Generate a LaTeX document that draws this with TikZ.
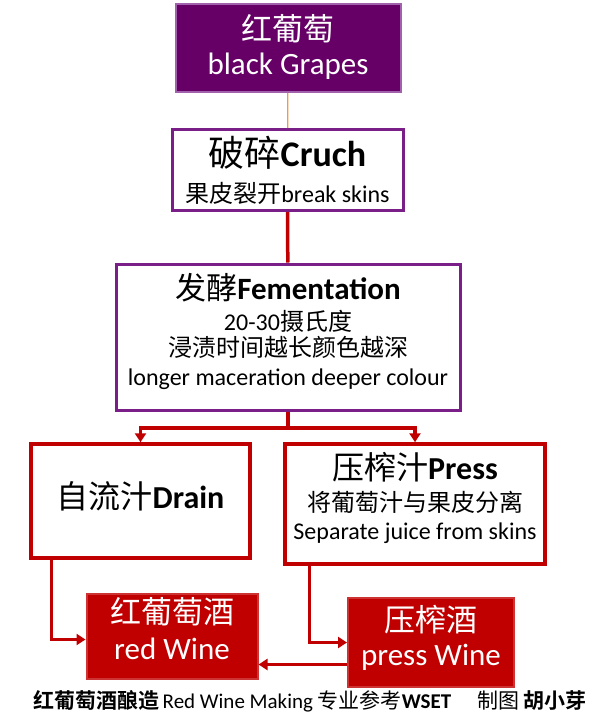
\documentclass[tikz,border=0pt]{standalone}
\usepackage{fontspec}
\setmainfont{Carlito}
\newfontfamily\cjk{Noto Sans CJK SC}[BoldFont={Noto Sans CJK SC Bold}]
\usetikzlibrary{positioning, arrows.meta}

\definecolor{grapepurple}{HTML}{660066}
\definecolor{framepurple}{HTML}{7A1E88}
\definecolor{winered}{HTML}{C00000}
\definecolor{stemorange}{HTML}{F79646}

\newcommand{\zh}[1]{{\cjk #1}}
\newcommand{\fs}[1]{\fontsize{#1}{#1}\selectfont}
\newcommand{\skipto}[1]{\fontsize{24}{#1}\selectfont\lineskiplimit=-20pt}

\begin{document}
\begin{tikzpicture}[
  x=1pt, y=-1pt,
  grapebox/.style={rectangle, draw=framepurple!70!white, line width=2pt, fill=grapepurple, text=white, minimum width=225pt, minimum height=88pt, align=center, inner sep=0pt},
  stagebox/.style={rectangle, draw=framepurple, line width=3pt, fill=white, align=center, inner sep=0pt},
  juicebox/.style={rectangle, draw=winered, line width=3.5pt, fill=white, align=center, inner sep=0pt},
  winebox/.style={rectangle, draw=winered!80!white, line width=2pt, fill=winered, text=white, align=center, inner sep=0pt},
  flow/.style={draw=winered, line width=3.5pt, -{Triangle[length=9pt, width=11pt]}},
  stem/.style={draw=stemorange, line width=1.2pt}
]
\useasboundingbox (0,0) rectangle (596,720);

% Grapes
\node[grapebox, font=\skipto{34}, text depth=8pt] (grapes) at (288,48) {\fs{31}\zh{红葡萄}\\ \fs{31}black Grapes};

% Crush
\node[stagebox, font=\skipto{36}, minimum width=231pt, minimum height=81pt] (crush) at (287.5,170)
  {\fs{36}\zh{破碎}\textbf{Cruch}\\ \fs{24}\zh{果皮裂开}break skins};

% Fermentation
\node[stagebox, font=\skipto{28}, text depth=15pt, minimum width=344pt, minimum height=146pt] (ferment) at (288,337)
  {\fs{31}\zh{发酵}\textbf{Fementation}\\[3pt]
   \fs{24}20-30\zh{摄氏度}\\[-2pt]
   \fs{24}\zh{浸渍时间越长颜色越深}\\[1pt]
   \fs{24}longer maceration deeper colour};

% Drain and press
\node[juicebox, font=\skipto{36}, text depth=12pt, minimum width=219pt, minimum height=114pt] (drain) at (140.5,501)
  {\fs{32}\zh{自流汁}\textbf{Drain}};
\node[juicebox, font=\skipto{28}, text depth=17pt, minimum width=260pt, minimum height=120pt] (press) at (415,504)
  {\fs{32}\zh{压榨汁}\textbf{Press}\\[4pt]
   \fs{24}\zh{将葡萄汁与果皮分离}\\
   \fs{24}Separate juice from skins};

% Wines
\node[winebox, font=\skipto{36}, text depth=16pt, minimum width=171pt, minimum height=85pt] (redwine) at (172,636.5)
  {\fs{31}\zh{红葡萄酒}\\ \fs{31}red Wine};
\node[winebox, font=\skipto{34}, text depth=15pt, minimum width=166pt, minimum height=89pt] (presswine) at (431,642.5)
  {\fs{31}\zh{压榨酒}\\ \fs{31}press Wine};

% Caption
\node (caption) at (310,701) {\fs{21}\zh{\bfseries 红葡萄酒酿造}\,Red Wine Making \zh{专业参考}\textbf{WSET}\quad\ \zh{制图} \zh{\bfseries 胡小芽}};

% Edges
\coordinate (split) at (288,428);
\coordinate (drainout) at ([xshift=22pt]drain.south west);
\coordinate (pressout) at ([xshift=26pt]press.south west);
\coordinate (backout) at ([yshift=-22pt]presswine.west);

\draw[stem] (grapes) -- (crush);
\draw[flow, -] (crush) -- (ferment);
\draw[flow, -] (ferment) -- (split);
\draw[flow] (split) -| (drain);
\draw[flow] (split) -| (press);
\draw[flow] (drainout) |- ([yshift=-3pt]redwine.west);
\draw[flow] (pressout) |- (presswine);
\draw[flow] (backout) -- (backout -| redwine.east);

\end{tikzpicture}
\end{document}
